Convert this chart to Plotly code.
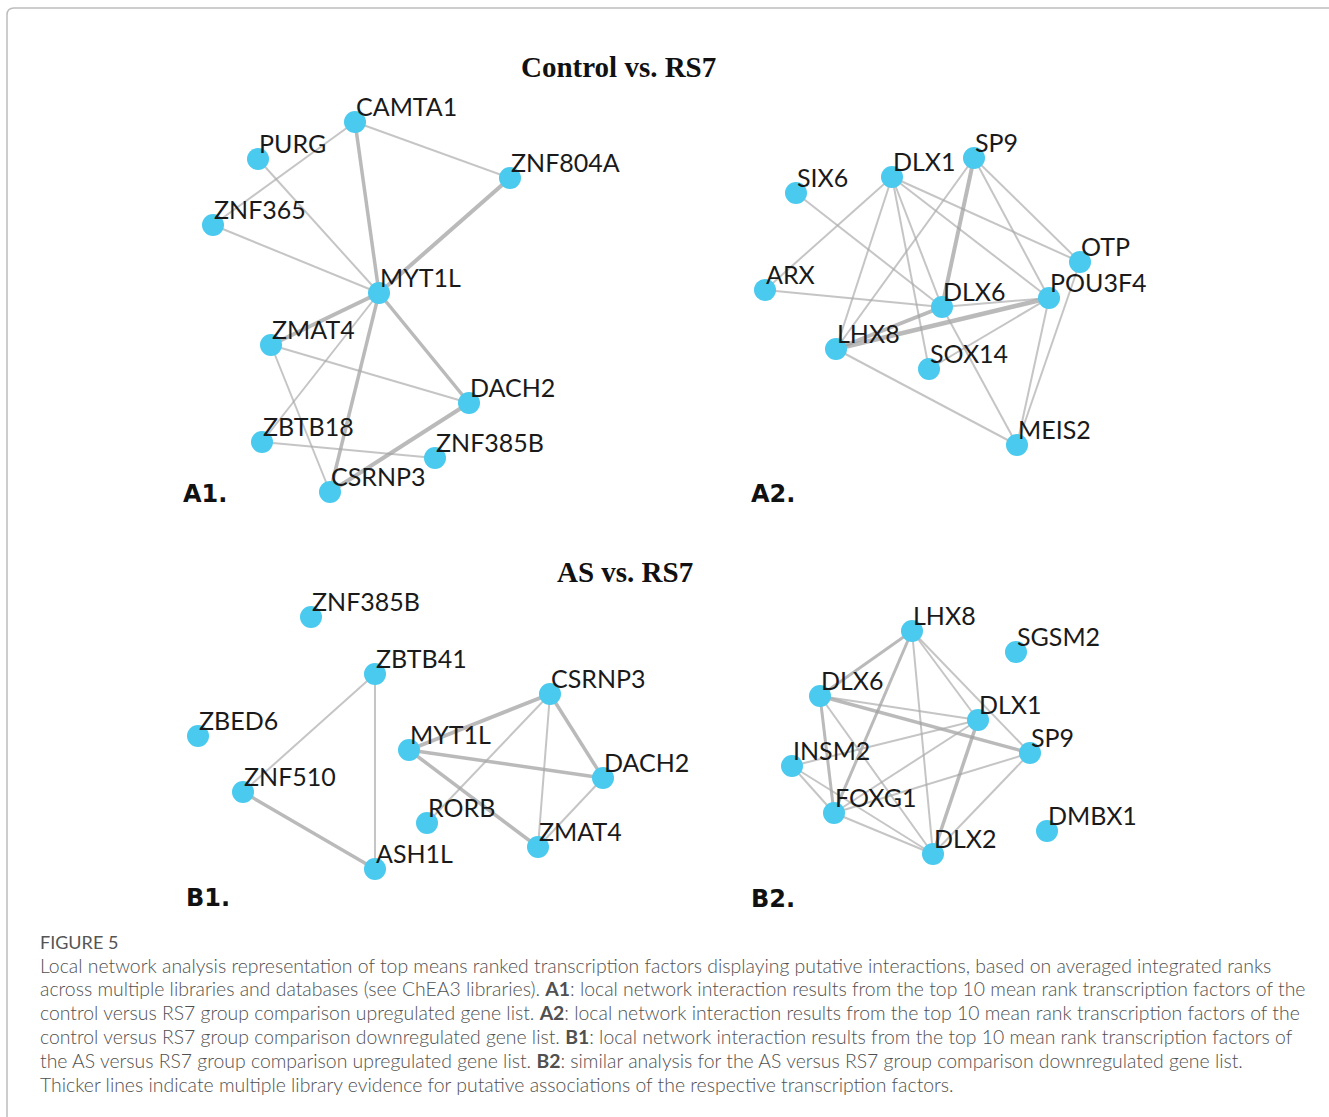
import plotly.graph_objects as go

# ---- network A1: Control vs. RS7, upregulated ----
a1_names = ["CAMTA1", "PURG", "ZNF804A", "ZNF365", "MYT1L", "ZMAT4", "DACH2", "ZBTB18", "ZNF385B", "CSRNP3"]
a1_x = [355, 258, 510, 213, 379, 271, 469, 262, 435, 330]
a1_y = [122, 159, 178, 225, 293, 345, 403, 442, 458, 492]
a1_edges = [
    ("CAMTA1", "ZNF365", 2), ("PURG", "MYT1L", 2), ("ZNF365", "MYT1L", 2),
    ("CAMTA1", "MYT1L", 3.5), ("CAMTA1", "ZNF804A", 2), ("ZNF804A", "MYT1L", 4),
    ("MYT1L", "ZMAT4", 4), ("MYT1L", "ZBTB18", 2), ("MYT1L", "CSRNP3", 3.5),
    ("MYT1L", "DACH2", 3.5), ("ZMAT4", "DACH2", 2), ("ZMAT4", "CSRNP3", 2),
    ("ZBTB18", "ZNF385B", 2), ("DACH2", "CSRNP3", 4),
]

# ---- network A2: Control vs. RS7, downregulated ----
a2_names = ["SP9", "DLX1", "SIX6", "OTP", "ARX", "POU3F4", "DLX6", "LHX8", "SOX14", "MEIS2"]
a2_x = [974, 892, 796, 1080, 765, 1049, 942, 836, 929, 1017]
a2_y = [158, 177, 193, 262, 290, 298, 307, 349, 369, 445]
a2_edges = [
    ("SIX6", "DLX6", 2), ("ARX", "DLX1", 2), ("ARX", "DLX6", 2),
    ("DLX1", "LHX8", 2), ("DLX1", "DLX6", 2), ("DLX1", "SOX14", 2),
    ("DLX1", "OTP", 2), ("DLX1", "POU3F4", 2), ("SP9", "LHX8", 2),
    ("SP9", "DLX6", 4), ("SP9", "OTP", 2), ("SP9", "POU3F4", 2),
    ("LHX8", "POU3F4", 4.5), ("LHX8", "DLX6", 4), ("LHX8", "MEIS2", 2),
    ("DLX6", "POU3F4", 2), ("DLX6", "MEIS2", 2), ("POU3F4", "SOX14", 2),
    ("POU3F4", "MEIS2", 2), ("OTP", "MEIS2", 2),
]

# ---- network B1: AS vs. RS7, upregulated ----
b1_names = ["ZNF385B", "ZBTB41", "CSRNP3", "ZBED6", "MYT1L", "DACH2", "ZNF510", "RORB", "ZMAT4", "ASH1L"]
b1_x = [311, 375, 550, 198, 409, 603, 243, 427, 538, 375]
b1_y = [617, 674, 694, 736, 750, 778, 792, 823, 847, 869]
b1_edges = [
    ("ZBTB41", "ZNF510", 2), ("ZBTB41", "ASH1L", 2), ("ZNF510", "ASH1L", 3.5),
    ("MYT1L", "CSRNP3", 4), ("MYT1L", "DACH2", 3.5), ("MYT1L", "ZMAT4", 3.5),
    ("CSRNP3", "DACH2", 3.5), ("CSRNP3", "RORB", 2), ("CSRNP3", "ZMAT4", 2),
    ("DACH2", "ZMAT4", 2),
]

# ---- network B2: AS vs. RS7, downregulated ----
b2_names = ["LHX8", "SGSM2", "DLX6", "DLX1", "SP9", "INSM2", "FOXG1", "DMBX1", "DLX2"]
b2_x = [912, 1016, 820, 978, 1030, 792, 834, 1047, 933]
b2_y = [631, 652, 696, 720, 753, 766, 813, 831, 854]
b2_edges = [
    ("LHX8", "DLX6", 3), ("LHX8", "FOXG1", 3), ("LHX8", "DLX2", 2),
    ("LHX8", "DLX1", 2), ("LHX8", "SP9", 2), ("DLX6", "SP9", 3.5),
    ("DLX6", "DLX1", 2), ("DLX6", "FOXG1", 3), ("DLX6", "DLX2", 2),
    ("INSM2", "DLX1", 2), ("INSM2", "FOXG1", 2), ("INSM2", "DLX2", 2),
    ("FOXG1", "DLX1", 2), ("FOXG1", "SP9", 2), ("FOXG1", "DLX2", 2),
    ("DLX1", "DLX2", 3.5), ("SP9", "DLX2", 2),
]

panels = [
    (a1_names, a1_x, a1_y, a1_edges),
    (a2_names, a2_x, a2_y, a2_edges),
    (b1_names, b1_x, b1_y, b1_edges),
    (b2_names, b2_x, b2_y, b2_edges),
]

section_titles = ["Control vs. RS7", "AS vs. RS7"]
panel_tags = ["A1.", "A2.", "B1.", "B2."]

caption_head = "FIGURE 5"
caption_lines = [
    "Local network analysis representation of top means ranked transcription factors displaying putative interactions, based on averaged integrated ranks",
    "across multiple libraries and databases (see ChEA3 libraries). <b>A1</b>: local network interaction results from the top 10 mean rank transcription factors of the",
    "control versus RS7 group comparison upregulated gene list. <b>A2</b>: local network interaction results from the top 10 mean rank transcription factors of the",
    "control versus RS7 group comparison downregulated gene list. <b>B1</b>: local network interaction results from the top 10 mean rank transcription factors of",
    "the AS versus RS7 group comparison upregulated gene list. <b>B2</b>: similar analysis for the AS versus RS7 group comparison downregulated gene list.",
    "Thicker lines indicate multiple library evidence for putative associations of the respective transcription factors.",
]

W, H = 1329, 1117
NODE_COLOR = "#4ACAEE"
EDGE_THIN = "rgba(170,170,170,0.68)"
EDGE_THICK = "rgba(160,160,160,0.72)"

fig = go.Figure()

# edges first so the nodes sit on top
for names, xs, ys, edges in panels:
    pos = {n: (x, y) for n, x, y in zip(names, xs, ys)}
    for a, b, w in edges:
        (x0, y0), (x1, y1) = pos[a], pos[b]
        fig.add_trace(go.Scatter(
            x=[x0, x1], y=[y0, y1], mode="lines",
            line=dict(color=EDGE_THICK if w > 2 else EDGE_THIN, width=w),
            hoverinfo="skip", showlegend=False,
        ))

for names, xs, ys, edges in panels:
    fig.add_trace(go.Scatter(
        x=xs, y=ys, mode="markers",
        marker=dict(size=22, color=NODE_COLOR, line=dict(width=0)),
        text=names, hoverinfo="text", showlegend=False,
    ))

annotations = []
for names, xs, ys, edges in panels:
    for n, x, y in zip(names, xs, ys):
        annotations.append(dict(
            x=x, y=y, text=n, showarrow=False, xanchor="left", yanchor="bottom",
            xshift=-1, yshift=-1,
            font=dict(family="Lato", size=25, color="#1a1a1a"),
        ))

title_pos = [(618, 67), (625, 572)]
for t, (x, y) in zip(section_titles, title_pos):
    annotations.append(dict(
        x=x, y=y, text="<b>" + t + "</b>", showarrow=False,
        xanchor="center", yanchor="middle",
        font=dict(family="Liberation Serif", size=29, color="#111111"),
    ))

tag_pos = [(181, 494), (749, 494), (184, 898), (749, 899)]
for t, (x, y) in zip(panel_tags, tag_pos):
    annotations.append(dict(
        x=x, y=y, text="<b>" + t + "</b>", showarrow=False,
        xanchor="left", yanchor="middle",
        font=dict(family="DejaVu Sans", size=24, color="#111111"),
    ))

annotations.append(dict(
    x=38, y=942, text=caption_head, showarrow=False,
    xanchor="left", yanchor="middle",
    font=dict(family="Lato", size=18, color="#555555"),
))
for i, line in enumerate(caption_lines):
    annotations.append(dict(
        x=38, y=965 + 23.9 * i, text=line, showarrow=False,
        xanchor="left", yanchor="middle",
        font=dict(family="Lato", size=19.4, color="#505050", weight=300),
    ))

fig.update_layout(
    width=W, height=H,
    margin=dict(l=0, r=0, t=0, b=0),
    paper_bgcolor="white", plot_bgcolor="white",
    xaxis=dict(range=[0, W], visible=False, fixedrange=True),
    yaxis=dict(range=[H, 0], visible=False, fixedrange=True),
    annotations=annotations,
    shapes=[dict(
        type="path",
        path="M 7 1117 L 7 15 Q 7 8 14 8 L 1329 8",
        line=dict(color="#bdbdbd", width=1.5),
        xref="x", yref="y",
    )],
)

fig.write_html("out.html")
